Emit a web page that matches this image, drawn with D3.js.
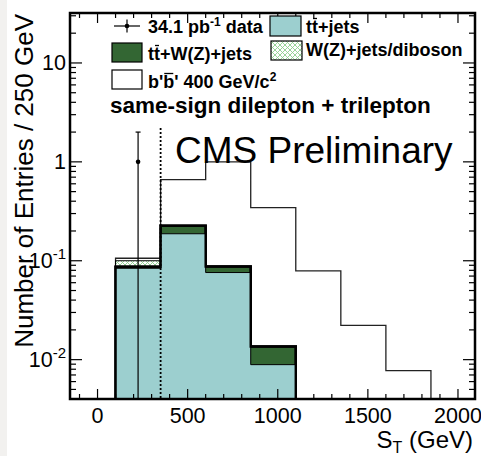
<!DOCTYPE html>
<html>
<head>
<meta charset="utf-8">
<script src="https://cdn.jsdelivr.net/npm/d3@7"></script>
<style>
  html, body { margin: 0; padding: 0; background: #ffffff; }
  svg { display: block; }
  text { font-family: "Liberation Sans", Arial, Helvetica, sans-serif; fill: #000; }
</style>
</head>
<body>
<svg id="chart" width="481" height="456"></svg>
<script>
// Bin edges of the S_T histogram (GeV), 250 GeV wide bins
const binEdges = [100, 350, 600, 850, 1100, 1350, 1600, 1850];

// Stacked components, entries per bin
const ttJets     = [0.084, 0.1875, 0.076, 0.0089, 0, 0, 0];
const ttWZJets   = [0.003, 0.0385, 0.0115, 0.0047, 0, 0, 0];
const wzDiboson  = [0.013, 0, 0, 0, 0, 0, 0];
const bPrime400  = [0.006, 0.434, 0.9125, 0.331, 0.079, 0.0222, 0.00774];

// Observed data (one event) with its error bar
const dataX = [225];
const dataY = [1];
const dataErrUp = [1];

// Cut marker position and top
const cutX = 350;
const cutTop = 2.2;

// Axis ticks
const xMajorTicks = [0, 500, 1000, 1500, 2000];
const xTickLabels = ["0", "500", "1000", "1500", "2000"];
const yMajorTicks = [0.01, 0.1, 1, 10];
const yTickLabels = [["10", "-2"], ["10", "-1"], ["1", ""], ["10", ""]];

const svg = d3.select("#chart");
const W = 481, H = 456;
const frame = { left: 70, right: 475, top: 13, bottom: 399 };

// page edge strip
svg.append("rect").attr("x", 0).attr("y", 0).attr("width", 7).attr("height", H).attr("fill", "#f2f1ef");

const x = d3.scaleLinear().domain([-150, 2100]).range([frame.left + 0.5, frame.right + 1]);
const y = d3.scaleLog().domain([0.004, 32]).range([frame.bottom, frame.top]);

const defs = svg.append("defs");
defs.append("clipPath").attr("id", "plotClip")
  .append("rect").attr("x", frame.left).attr("y", frame.top)
  .attr("width", frame.right - frame.left).attr("height", frame.bottom - frame.top);

// cross-hatch used for W(Z)+jets/diboson
const pat = defs.append("pattern").attr("id", "hatch").attr("patternUnits", "userSpaceOnUse")
  .attr("width", 5).attr("height", 5);
pat.append("rect").attr("width", 5).attr("height", 5).attr("fill", "#ffffff");
pat.append("path").attr("d", "M0,0 L5,5 M5,0 L0,5 M-1,4 L1,6 M4,-1 L6,1 M-1,1 L1,-1 M4,6 L6,4")
  .attr("stroke", "#8fcf8f").attr("stroke-width", 0.9);

const COL_TT = "#9ccfcf";
const COL_TTW = "#336633";

// cumulative stack
const stackSeries = [ttJets, ttWZJets, wzDiboson, bPrime400];
const cumulative = [];
stackSeries.forEach((s, i) => {
  cumulative.push(s.map((v, b) => v + (i > 0 ? cumulative[i - 1][b] : 0)));
});

const base = frame.bottom + 5;
function stepPath(vals) {
  const idx = vals.map((v, i) => v > 0 ? i : -1).filter(i => i >= 0);
  if (!idx.length) return "";
  const first = idx[0], last = idx[idx.length - 1];
  const p = d3.path();
  p.moveTo(x(binEdges[first]), base);
  for (let b = first; b <= last; b++) {
    p.lineTo(x(binEdges[b]), y(vals[b]));
    p.lineTo(x(binEdges[b + 1]), y(vals[b]));
  }
  p.lineTo(x(binEdges[last + 1]), base);
  return p.toString();
}

const plot = svg.append("g").attr("clip-path", "url(#plotClip)");

// drawn from the top of the stack down
plot.append("path").attr("d", stepPath(cumulative[3]) + "Z")
  .attr("fill", "#ffffff").attr("stroke", "#222").attr("stroke-width", 1.3);
plot.append("path").attr("d", stepPath(cumulative[2]) + "Z")
  .attr("fill", "url(#hatch)").attr("stroke", "#000").attr("stroke-width", 1.1);
plot.append("path").attr("d", stepPath(cumulative[1]) + "Z")
  .attr("fill", COL_TTW).attr("stroke", "#000").attr("stroke-width", 2.4);
plot.append("path").attr("d", stepPath(cumulative[0]) + "Z")
  .attr("fill", COL_TT).attr("stroke", "#000").attr("stroke-width", 1);
plot.append("path").attr("d", stepPath(cumulative[1]))
  .attr("fill", "none").attr("stroke", "#000").attr("stroke-width", 2.4);

// cut marker
plot.append("line")
  .attr("x1", x(cutX)).attr("x2", x(cutX))
  .attr("y1", y(cutTop)).attr("y2", frame.bottom)
  .attr("stroke", "#000").attr("stroke-width", 1.8).attr("stroke-dasharray", "2,2");

// data with error bars
dataX.forEach((dx, i) => {
  const cx = x(dx);
  const top = y(dataY[i] + dataErrUp[i]);
  plot.append("line").attr("x1", cx).attr("x2", cx).attr("y1", top).attr("y2", frame.bottom)
    .attr("stroke", "#000").attr("stroke-width", 1.2);
  plot.append("line").attr("x1", cx - 2.5).attr("x2", cx + 2.5).attr("y1", top).attr("y2", top)
    .attr("stroke", "#000").attr("stroke-width", 1.2);
  plot.append("circle").attr("cx", cx).attr("cy", y(dataY[i])).attr("r", 2.3).attr("fill", "#000");
});

// frame
svg.append("rect").attr("x", frame.left).attr("y", frame.top)
  .attr("width", frame.right - frame.left).attr("height", frame.bottom - frame.top)
  .attr("fill", "none").attr("stroke", "#000").attr("stroke-width", 2.5);

// ticks
const tg = svg.append("g").attr("stroke", "#000").attr("stroke-width", 1.2);
const xMinor = d3.range(-100, 2100, 100);
xMinor.forEach(v => {
  const len = xMajorTicks.includes(v) ? 10 : 5;
  tg.append("line").attr("x1", x(v)).attr("x2", x(v)).attr("y1", frame.bottom).attr("y2", frame.bottom - len);
  tg.append("line").attr("x1", x(v)).attr("x2", x(v)).attr("y1", frame.top).attr("y2", frame.top + len);
});
const yTicksAll = y.ticks().filter(v => v >= 0.004 && v <= 32);
yTicksAll.forEach(v => {
  const major = yMajorTicks.some(m => Math.abs(m - v) / m < 1e-6);
  const len = major ? 12 : 6;
  tg.append("line").attr("x1", frame.left).attr("x2", frame.left + len).attr("y1", y(v)).attr("y2", y(v));
  tg.append("line").attr("x1", frame.right).attr("x2", frame.right - len).attr("y1", y(v)).attr("y2", y(v));
});

// tick labels
xMajorTicks.forEach((v, i) => {
  svg.append("text").attr("x", x(v)).attr("y", 423).attr("text-anchor", "middle")
    .attr("font-size", 21.5).text(xTickLabels[i]);
});
yMajorTicks.forEach((v, i) => {
  const [b, e] = yTickLabels[i];
  const t = svg.append("text").attr("x", 66).attr("y", y(v) + 7.5).attr("text-anchor", "end").attr("font-size", 21.5);
  t.append("tspan").text(b);
  if (e) t.append("tspan").attr("font-size", 15).attr("dy", -9).text(e);
});

// axis titles
const xt = svg.append("text").attr("x", 473).attr("y", 448).attr("text-anchor", "end").attr("font-size", 24);
xt.append("tspan").text("S");
xt.append("tspan").attr("font-size", 16).attr("dy", 5).text("T");
xt.append("tspan").attr("dy", -5).text(" (GeV)");

svg.append("text").attr("transform", "translate(33,14) rotate(-90)").attr("text-anchor", "end")
  .attr("font-size", 26).text("Number of Entries / 250 GeV");

// overline helper for anti-particle symbols
function overline(textSel, charIndex) {
  const node = textSel.node();
  const ext = node.getExtentOfChar(charIndex);
  svg.append("line").attr("x1", ext.x + 1).attr("x2", ext.x + ext.width - 1)
    .attr("y1", ext.y + 1.5).attr("y2", ext.y + 1.5)
    .attr("stroke", "#000").attr("stroke-width", 1.3);
}

// legend
const lg = svg.append("g");
const LF = 18;
// data entry
lg.append("line").attr("x1", 114).attr("x2", 140).attr("y1", 26).attr("y2", 26).attr("stroke", "#000").attr("stroke-width", 1.2);
lg.append("line").attr("x1", 127).attr("x2", 127).attr("y1", 19.5).attr("y2", 32.5).attr("stroke", "#000").attr("stroke-width", 1.2);
lg.append("circle").attr("cx", 127).attr("cy", 26).attr("r", 2.3).attr("fill", "#000");
const t1 = svg.append("text").attr("x", 148).attr("y", 33).attr("font-size", LF).attr("font-weight", "bold");
t1.append("tspan").text("34.1 pb");
t1.append("tspan").attr("font-size", 12).attr("dy", -7).text("-1");
t1.append("tspan").attr("dy", 7).text(" data");

lg.append("rect").attr("x", 270).attr("y", 16).attr("width", 31).attr("height", 20)
  .attr("fill", COL_TT).attr("stroke", "#000").attr("stroke-width", 1.2);
const t2 = svg.append("text").attr("x", 306).attr("y", 33).attr("font-size", LF).attr("font-weight", "bold").text("tt+jets");
overline(t2, 1);

lg.append("rect").attr("x", 112).attr("y", 43).attr("width", 30).attr("height", 19)
  .attr("fill", COL_TTW).attr("stroke", "#000").attr("stroke-width", 1.2);
const t3 = svg.append("text").attr("x", 148).attr("y", 60).attr("font-size", LF).attr("font-weight", "bold").text("tt+W(Z)+jets");
overline(t3, 1);

lg.append("rect").attr("x", 271).attr("y", 41).attr("width", 31).attr("height", 19)
  .attr("fill", "url(#hatch)").attr("stroke", "#000").attr("stroke-width", 1.2);
svg.append("text").attr("x", 306).attr("y", 56).attr("font-size", LF).attr("font-weight", "bold").text("W(Z)+jets/diboson");

lg.append("rect").attr("x", 112).attr("y", 70).attr("width", 30).attr("height", 19)
  .attr("fill", "#fff").attr("stroke", "#000").attr("stroke-width", 1.2);
const t5 = svg.append("text").attr("x", 148).attr("y", 88).attr("font-size", LF).attr("font-weight", "bold");
t5.append("tspan").text("b'b' 400 GeV/c");
t5.append("tspan").attr("font-size", 12).attr("dy", -7).text("2");
overline(t5, 2);

svg.append("text").attr("x", 110).attr("y", 113).attr("font-size", 22.5).attr("font-weight", "bold")
  .text("same-sign dilepton + trilepton");

svg.append("text").attr("x", 175).attr("y", 163).attr("font-size", 37).text("CMS Preliminary");
</script>
</body>
</html>
